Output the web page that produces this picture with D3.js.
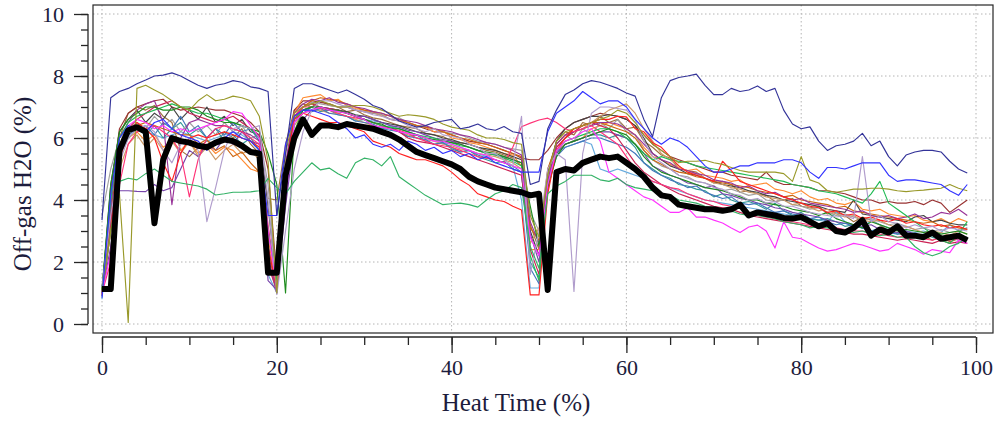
<!DOCTYPE html>
<html>
<head>
<meta charset="utf-8">
<script src="https://cdn.jsdelivr.net/npm/d3@7"></script>
<style>
  html, body { margin: 0; padding: 0; background: #fff; }
  svg { display: block; font-family: "Liberation Serif", "Times New Roman", serif; }
</style>
</head>
<body>
<svg id="chart" width="998" height="421"></svg>
<script>
// Heat time (%) positions shared by every run
const heatTime = [0,1,2,3,4,5,6,7,8,9,10,11,12,13,14,15,16,17,18,19,20,21,22,23,24,25,26,27,28,29,30,31,32,33,34,35,36,37,38,39,40,41,42,43,44,45,46,47,48,49,50,51,52,53,54,55,56,57,58,59,60,61,62,63,64,65,66,67,68,69,70,71,72,73,74,75,76,77,78,79,80,81,82,83,84,85,86,87,88,89,90,91,92,93,94,95,96,97,98,99];
const xTicks = [0, 20, 40, 60, 80, 100];
const yTicks = [0, 2, 4, 6, 8, 10];

// individual heats, off-gas H2O (%)
const runNavy = [3.35,7.3,7.5,7.6,7.75,7.87,8.0,8.03,8.1,8.0,7.85,7.7,7.6,7.7,7.75,7.85,7.8,7.65,7.6,7.5,3.5,5.5,7.6,7.75,7.75,7.65,7.55,7.45,7.55,7.4,7.25,7.05,6.95,6.75,6.55,6.45,6.35,6.4,6.5,6.55,6.6,6.3,6.35,6.45,6.3,6.25,6.37,6.2,6.15,4.5,4.6,6.3,6.9,7.4,7.55,7.75,7.85,7.8,7.7,7.6,7.45,7.35,6.6,6.05,7.3,7.85,7.95,8.0,8.06,7.7,7.4,7.4,7.6,7.5,7.55,7.68,7.5,7.6,6.9,6.45,6.3,6.36,5.9,5.6,5.75,5.8,5.9,6.15,5.75,5.9,5.4,5.1,5.45,5.55,5.6,5.6,5.55,5.25,5.0,4.87];
const runBlue = [0.85,4.2,6.0,6.4,6.3,6.2,6.5,6.6,6.3,6.1,6.0,5.9,5.6,5.9,6.0,6.2,6.0,5.9,5.6,3.5,3.5,5.8,6.7,6.9,6.9,6.8,6.7,6.5,6.3,6.0,6.1,5.8,5.7,5.8,5.6,5.9,5.8,5.6,5.7,5.5,5.6,5.4,5.5,5.3,5.4,5.2,5.1,5.0,4.9,4.9,4.9,6.2,6.8,7.0,7.2,7.5,7.3,7.1,7.2,7.2,7.0,6.6,6.3,6.0,5.8,6.0,5.9,5.7,5.4,5.1,4.9,4.9,5.0,5.1,5.1,5.2,5.2,5.2,5.3,5.3,5.2,4.9,4.7,5.05,5.05,5.0,5.1,5.2,5.2,5.2,4.8,4.6,4.65,4.65,4.6,4.55,4.5,4.3,4.15,4.5];
const runGreen = [1.0,3.0,4.6,4.7,4.65,4.85,5.0,4.8,4.6,4.55,4.5,4.45,4.35,4.16,4.2,4.25,4.25,4.26,4.3,4.7,4.4,4.2,4.6,4.9,5.2,4.97,5.03,4.85,4.7,5.2,5.35,5.3,5.1,5.4,4.75,4.55,4.35,4.15,4.0,3.85,3.88,3.9,3.85,3.77,4.0,4.2,4.3,4.5,4.4,2.5,1.8,4.2,4.45,4.6,4.8,4.8,4.8,4.65,4.6,4.7,4.5,4.4,4.35,4.3,4.2,4.15,4.0,3.95,3.9,3.8,3.75,3.7,3.65,3.55,3.5,3.5,3.45,3.4,3.3,3.25,3.2,3.1,3.15,3.1,3.05,3.0,2.95,3.0,2.9,2.85,2.9,2.8,2.8,2.5,2.3,2.2,2.3,2.5,2.6,2.8];
const runOlive = [1.1,3.0,4.2,0.05,7.6,7.7,7.55,7.4,7.2,7.0,6.9,7.2,7.4,7.2,7.25,7.35,7.3,7.2,6.7,5.25,1.0,5.5,6.8,7.0,7.1,7.2,7.1,7.0,7.0,7.05,7.05,7.0,6.9,6.8,6.7,6.75,6.72,6.68,6.6,6.45,6.35,6.3,6.25,6.1,6.0,6.0,5.95,5.85,5.8,3.5,2.8,4.8,5.9,6.2,6.3,6.4,6.5,6.6,6.7,6.9,6.8,6.5,6.1,5.8,5.6,5.4,5.2,5.25,5.25,5.28,5.2,5.15,5.05,4.95,4.9,4.9,4.9,4.9,4.85,4.6,5.4,4.65,4.55,4.3,4.25,4.3,4.35,4.35,4.38,4.38,4.35,4.3,4.27,4.3,4.32,4.35,4.38,4.5,4.38,4.3];
const runLavender = [1.2,3.5,5.2,6.0,6.3,6.4,6.2,5.6,5.2,5.8,6.0,5.6,3.3,4.4,5.6,6.3,6.4,6.3,6.4,4.0,0.95,3.0,5.0,6.2,6.9,7.2,7.2,7.1,7.0,6.9,6.85,6.75,6.7,6.6,6.55,6.4,6.3,6.2,6.3,6.1,6.05,6.0,5.8,5.7,5.5,5.5,5.3,5.1,6.7,1.6,3.0,5.0,5.5,5.3,1.05,5.5,6.8,7.0,7.0,6.95,6.9,6.6,5.9,5.4,5.2,5.0,4.8,4.7,4.6,4.55,4.4,4.35,4.2,4.15,4.0,4.05,3.9,3.95,3.8,3.8,3.7,3.6,3.55,3.5,3.45,3.5,3.4,5.4,3.3,3.5,3.3,3.25,3.1,3.2,3.1,3.15,3.0,3.1,3.05,3.0];
const runMagenta = [1.0,2.3,5.5,6.4,6.6,6.5,6.3,6.4,6.2,6.3,6.2,6.3,6.4,6.5,6.6,6.85,6.8,6.4,6.0,3.0,1.2,4.0,6.5,6.8,6.9,7.0,6.9,6.85,6.8,6.7,6.6,6.4,6.35,6.3,6.2,6.15,6.1,6.0,5.9,5.9,5.8,5.7,5.6,5.5,5.45,5.3,5.2,5.1,5.0,2.8,2.2,4.5,5.6,5.9,6.0,6.2,6.3,5.9,4.9,4.7,4.5,4.3,4.1,4.0,3.8,3.6,3.6,3.75,3.45,3.45,3.35,3.26,3.1,2.95,3.13,3.19,3.0,2.45,3.3,2.8,2.75,2.6,2.45,2.35,2.4,2.5,2.6,2.55,2.45,2.35,2.4,2.6,2.5,2.4,2.25,2.4,2.35,2.3,2.7,2.6];
const runRed = [0.95,3.0,5.3,6.2,6.5,6.3,6.0,5.2,4.6,5.5,6.0,6.1,6.0,6.1,6.2,6.1,6.0,5.9,5.7,2.5,1.1,5.0,6.6,6.8,6.7,6.6,6.5,6.5,6.4,6.3,6.2,5.9,5.8,5.7,5.5,5.4,5.3,5.3,5.2,5.1,4.9,4.65,4.48,4.2,4.1,4.0,3.95,3.8,3.68,0.94,0.94,4.2,5.6,6.0,6.3,6.4,6.5,6.6,6.6,6.7,6.68,6.3,6.2,5.85,5.7,5.4,5.1,4.9,4.8,4.7,4.6,5.25,4.95,4.6,4.5,4.4,4.3,4.2,4.1,4.0,3.9,3.8,3.75,3.6,3.65,3.5,3.55,3.4,3.45,3.35,3.3,3.4,3.25,3.3,3.2,3.15,3.2,3.1,3.15,3.05];
const runDarkGreen = [1.1,4.5,6.2,6.6,6.8,7.0,7.0,6.9,6.9,7.0,7.0,6.9,6.7,6.6,6.5,6.5,6.4,6.3,6.2,5.5,4.5,1.0,6.2,6.9,7.0,7.0,6.9,6.9,6.8,6.7,6.6,6.5,6.45,6.3,6.3,6.2,6.1,6.0,5.95,5.9,5.85,5.8,5.7,5.6,5.55,5.5,5.4,5.3,5.2,3.8,2.5,4.4,5.4,5.8,5.9,6.0,6.1,6.2,6.3,6.2,6.1,5.8,5.4,5.1,4.9,4.8,4.7,4.6,4.5,4.4,4.35,4.3,4.2,4.1,4.0,4.0,3.9,3.85,3.8,3.7,3.65,3.6,3.5,3.6,3.4,3.3,3.2,3.1,3.3,3.2,3.1,3.0,3.05,3.0,2.95,3.0,2.9,2.95,3.0,2.9];
const runBrown = [1.0,4.0,6.0,6.8,7.0,6.9,7.05,6.7,6.5,5.6,5.4,5.7,5.9,5.8,6.2,6.0,6.3,5.8,5.5,4.05,4.0,5.8,6.9,7.1,7.0,7.2,7.05,7.0,6.85,6.9,6.75,6.65,6.6,6.5,6.4,6.35,6.3,6.15,6.1,6.05,5.9,5.85,5.8,5.7,5.6,5.55,5.45,5.35,5.1,3.2,2.4,4.8,5.9,6.2,6.1,6.5,6.4,6.7,6.5,6.6,6.3,6.35,5.9,5.7,5.45,5.35,5.0,4.95,4.9,4.7,4.55,4.6,4.5,4.25,4.3,4.2,4.15,3.95,4.0,4.05,3.8,3.75,3.8,3.55,3.6,3.5,3.3,3.45,3.35,3.2,3.0,2.95,2.8,2.9,2.85,2.7,2.8,2.65,2.75,2.8];
const runMaroon = [1.1,4.3,6.3,6.8,7.0,7.1,7.2,7.25,7.0,6.9,6.95,7.0,6.95,6.9,6.9,6.8,6.7,6.5,6.2,5.0,1.5,5.0,6.9,7.2,7.2,7.15,7.1,7.0,7.0,6.9,6.85,6.8,6.75,6.6,6.55,6.5,6.4,6.3,6.2,6.2,6.1,6.0,5.9,5.85,5.8,5.7,5.6,5.5,5.35,5.3,5.3,5.6,6.0,6.3,6.5,6.6,6.7,6.8,6.75,6.7,6.6,6.4,6.1,5.8,5.6,5.4,5.3,5.2,5.1,5.0,4.9,4.9,4.8,4.75,4.7,4.65,4.9,4.6,4.5,4.5,4.45,4.4,4.3,4.3,4.25,4.2,4.1,4.0,4.0,3.9,3.95,3.9,3.9,3.95,3.85,4.0,3.9,3.6,3.8,4.0];
const runOrange = [0.9,3.5,5.5,6.0,6.2,5.9,6.1,5.7,5.9,5.6,5.9,5.5,5.8,5.5,5.7,5.6,5.3,5.0,4.9,2.8,1.1,4.5,6.8,7.3,7.35,7.4,7.2,7.25,7.05,6.95,6.9,6.85,6.7,6.75,6.55,6.5,6.4,6.35,6.2,6.25,6.0,5.95,5.85,5.8,5.7,5.6,5.5,5.45,5.1,2.4,2.4,4.3,5.6,5.8,5.9,6.0,6.3,6.4,6.5,6.4,6.3,6.1,5.7,5.4,5.3,5.15,5.05,4.95,5.0,4.8,4.75,4.7,4.6,4.65,4.45,4.5,4.55,4.35,4.3,4.2,4.3,4.1,4.0,4.05,3.9,3.85,3.95,3.7,3.65,3.7,3.55,3.5,3.45,3.5,3.35,3.3,3.4,3.25,3.4,3.3];
const runLightBlue = [0.8,3.8,5.8,6.2,6.3,6.2,6.1,6.0,6.1,6.2,6.1,6.0,5.9,6.0,6.1,6.2,6.1,5.9,5.6,1.6,1.0,4.8,6.6,6.9,7.0,7.0,6.9,6.9,6.8,6.7,6.6,6.55,6.5,6.4,6.3,6.2,6.1,6.0,5.95,5.85,5.8,5.7,5.6,5.5,5.4,5.3,5.2,5.1,4.0,1.16,1.16,5.0,5.6,5.7,5.8,5.9,5.8,5.0,4.9,5.0,4.9,4.8,4.7,4.6,4.5,4.4,4.3,4.2,4.1,4.0,3.95,3.9,3.85,3.8,3.75,3.7,3.65,3.6,3.55,3.5,3.45,3.4,3.35,3.3,3.6,3.3,3.2,3.1,3.35,3.2,3.1,3.05,3.0,2.95,3.0,2.9,2.95,3.2,3.0,3.1];
const runPurple = [1.0,3.8,6.0,6.5,6.9,7.1,7.2,6.5,3.85,6.0,6.5,6.6,6.5,6.4,6.4,6.3,6.2,6.1,5.9,2.2,1.0,5.2,6.8,7.1,7.25,7.2,7.3,7.15,7.1,7.0,6.95,6.85,6.8,6.7,6.6,6.55,6.5,6.4,6.3,6.25,6.2,6.1,6.05,5.95,5.85,5.8,5.7,5.6,5.45,3.3,2.6,4.6,5.8,6.1,6.2,6.3,6.4,6.5,6.5,6.45,6.3,6.1,5.8,5.5,5.3,5.2,5.0,4.95,4.85,4.8,4.65,4.6,4.55,4.4,4.45,4.3,4.2,4.25,4.1,4.0,4.05,3.9,3.85,3.8,3.75,3.7,3.6,3.65,3.5,3.45,3.5,3.4,3.45,3.55,3.4,3.45,3.6,3.55,3.7,3.5];
const runPink = [1.0,2.0,4.5,5.8,6.2,6.3,6.4,6.2,6.0,5.5,4.1,5.3,6.0,6.3,6.4,6.3,6.2,6.0,5.8,3.2,1.2,4.2,6.7,7.0,7.0,6.95,6.9,6.8,6.7,6.65,6.6,6.5,6.4,6.3,6.25,6.15,6.0,5.9,5.8,5.75,5.7,5.6,5.5,5.4,5.35,5.3,5.2,5.7,6.36,6.48,6.58,6.64,6.5,6.3,6.2,6.3,6.4,6.2,6.0,5.8,5.4,5.0,4.8,4.6,4.5,4.4,4.35,4.2,4.1,4.0,3.95,3.85,3.8,3.75,3.6,3.5,3.45,3.4,3.3,3.3,3.25,3.2,3.1,3.15,3.1,3.05,3.0,3.0,2.95,2.9,2.85,2.8,2.85,2.8,2.75,2.7,2.8,2.7,2.75,2.7];
const runTeal = [1.2,3.2,5.4,6.0,6.3,6.1,6.4,6.0,6.3,6.5,6.1,6.3,6.0,6.3,5.9,6.1,5.8,6.0,5.6,1.8,1.3,4.0,6.5,6.8,7.0,6.85,6.9,6.75,6.7,6.55,6.6,6.4,6.3,6.35,6.2,6.05,6.1,5.9,5.8,5.85,5.65,5.55,5.6,5.4,5.3,5.2,5.25,5.0,4.9,2.0,1.5,4.8,5.5,5.8,5.9,6.0,6.1,6.1,6.0,6.1,6.0,5.7,5.2,5.0,4.8,4.7,4.5,4.45,4.35,4.3,4.1,4.2,4.0,3.9,3.95,3.85,3.7,3.9,3.65,3.5,3.6,3.4,3.35,3.4,3.3,3.15,3.2,3.1,3.0,3.1,3.05,2.9,2.95,2.85,2.9,2.8,2.7,2.85,2.75,2.8];
const runGray = [3.5,5.0,6.0,6.3,6.5,6.3,6.7,6.4,6.6,6.2,6.5,6.2,6.4,6.1,6.5,6.2,6.4,6.0,6.1,4.5,1.2,4.7,6.7,7.0,7.15,7.1,7.05,7.0,7.05,6.9,6.85,6.8,6.75,6.6,6.65,6.5,6.4,6.35,6.3,6.2,6.15,6.1,6.0,5.9,5.85,5.8,5.7,5.65,5.6,3.6,3.0,4.7,5.8,6.1,5.9,6.3,6.1,6.5,6.3,6.6,6.2,6.1,5.6,5.3,5.1,5.0,4.8,4.75,4.6,4.55,4.45,4.3,4.35,4.25,4.15,4.2,4.0,3.95,4.0,3.85,3.8,3.7,3.75,3.6,3.5,3.55,3.45,3.35,3.4,3.3,3.2,3.25,3.15,3.05,3.1,3.0,3.05,2.95,3.0,3.1];
const runCharcoal = [1.0,4.5,6.2,6.6,6.9,6.5,6.8,6.6,7.0,6.6,6.9,6.6,7.0,6.5,6.7,6.4,6.6,6.2,6.1,3.8,1.2,5.0,6.7,6.9,7.0,7.0,6.95,6.9,6.85,6.75,6.7,6.6,6.5,6.45,6.4,6.3,6.2,6.15,6.1,6.0,5.95,5.85,5.8,5.7,5.65,5.6,5.5,5.4,5.3,3.0,2.2,4.9,5.9,6.3,6.5,6.6,6.7,6.7,6.75,6.7,6.6,6.4,6.0,5.5,5.3,5.1,5.0,4.85,4.8,4.7,4.6,4.5,4.45,4.4,4.3,4.25,4.15,4.1,4.0,3.95,3.9,3.85,3.8,3.7,3.65,3.6,4.0,3.55,3.5,3.45,3.4,3.35,3.3,3.45,3.5,3.3,3.35,3.25,3.2,3.2];
const runTan = [1.0,3.0,5.0,5.8,6.1,5.7,6.0,5.6,5.9,5.5,5.9,5.4,5.7,5.3,5.6,5.8,5.5,5.6,5.3,2.0,1.0,4.4,6.4,6.8,6.9,6.9,6.8,6.8,6.7,6.6,6.5,6.4,6.35,6.3,6.2,6.1,6.0,5.95,5.9,5.8,5.75,5.65,5.6,5.5,5.45,5.4,5.3,5.2,5.0,2.6,3.1,4.6,5.7,6.0,6.2,6.3,6.5,6.7,6.9,7.0,7.1,6.8,6.3,5.9,5.5,5.3,5.1,4.9,4.85,4.7,4.55,4.5,4.4,4.35,4.25,4.2,4.1,4.05,4.0,3.85,3.9,3.75,3.65,3.7,3.55,3.45,3.5,3.35,3.3,3.35,3.2,3.1,3.15,3.05,2.95,3.0,2.95,2.85,3.0,2.9];
const runViolet = [1.0,2.5,4.3,4.3,4.28,4.27,4.5,4.3,4.4,5.0,5.6,5.4,5.8,5.6,6.0,5.8,6.2,5.9,5.8,1.4,1.1,3.8,6.0,6.6,6.9,7.0,6.95,6.9,6.8,6.7,6.7,6.6,6.5,6.4,6.35,6.25,6.2,6.1,6.0,5.95,5.9,5.8,5.7,5.6,5.5,5.45,5.4,5.3,5.2,2.9,2.0,4.4,5.5,5.8,5.9,6.0,6.1,6.2,6.2,6.1,6.0,5.8,5.5,5.1,4.95,4.8,4.7,4.55,4.5,4.4,4.45,4.2,4.15,4.05,4.0,3.9,3.85,3.75,3.7,3.6,3.55,3.5,3.45,3.35,3.3,3.25,3.2,3.15,3.2,3.05,3.0,2.95,3.0,2.9,2.85,2.9,2.8,2.85,2.8,2.8];
const runSeaGreen = [1.1,4.0,6.0,6.5,6.7,6.8,6.9,7.0,7.1,7.0,6.9,6.8,6.8,6.7,6.6,6.5,6.4,6.3,6.0,3.0,1.4,4.6,6.6,6.9,7.0,7.0,6.9,6.85,6.8,6.7,6.6,6.5,6.4,6.35,6.3,6.2,6.1,6.05,6.0,5.9,5.85,5.75,5.7,5.6,5.5,5.45,5.35,5.25,5.1,2.2,1.4,4.5,5.6,5.9,6.0,6.1,6.2,6.3,6.3,6.2,6.0,5.8,5.5,5.3,5.4,5.3,5.25,5.2,5.1,5.05,5.0,4.95,4.9,4.85,4.8,4.75,4.7,4.65,4.6,4.5,4.45,4.4,4.3,4.25,4.2,4.1,4.0,3.9,4.2,4.6,3.9,3.7,3.5,3.3,3.1,2.9,2.7,2.6,2.9,3.3];
const runSteel = [0.9,3.6,5.6,6.1,6.3,6.4,6.1,6.5,6.3,6.7,6.2,6.4,6.0,6.3,6.1,6.5,6.2,6.3,5.9,2.5,1.1,4.4,6.5,6.9,6.85,6.95,6.8,6.75,6.7,6.55,6.5,6.45,6.3,6.25,6.2,6.05,6.0,5.95,5.8,5.85,5.7,5.55,5.6,5.45,5.35,5.3,5.2,5.1,4.9,1.8,1.3,4.5,5.4,5.7,5.8,5.9,6.0,6.0,5.9,5.8,5.7,5.5,5.2,4.95,4.8,4.65,4.55,4.4,4.45,4.25,4.15,4.05,4.1,3.9,3.85,3.9,3.75,3.6,3.65,3.55,3.5,3.4,3.45,3.3,3.2,3.25,3.15,3.1,3.0,3.05,2.95,2.9,2.95,2.85,2.8,2.9,2.75,2.8,2.7,2.75];
const runDarkOrange = [1.0,3.5,5.7,6.2,6.4,6.5,6.4,6.3,6.2,6.1,6.1,5.8,5.95,5.6,5.75,5.4,5.55,5.2,4.9,2.2,1.3,4.6,6.6,7.0,7.2,7.3,7.25,7.2,7.1,7.0,6.9,6.85,6.8,6.7,6.6,6.5,6.4,6.35,6.3,6.2,6.1,6.0,5.95,5.85,5.8,5.7,5.6,5.5,5.4,3.1,2.7,5.0,5.8,6.1,6.3,6.4,6.5,6.5,6.4,6.3,6.2,6.0,5.6,5.3,5.15,5.0,4.9,4.85,4.75,4.7,4.6,4.55,4.5,4.45,4.4,4.3,4.25,4.2,4.1,4.15,4.0,3.95,3.9,3.85,3.75,3.8,3.65,3.6,3.55,3.5,3.45,3.4,3.35,3.3,3.25,3.3,3.15,3.2,3.1,3.05];
const runCrimson = [1.0,3.3,5.6,6.3,6.6,6.8,7.0,7.1,7.2,7.0,6.8,6.7,6.6,6.5,6.6,6.7,6.5,6.3,6.1,1.9,1.1,4.3,6.7,7.0,7.1,7.0,6.95,6.9,6.8,6.7,6.6,6.5,6.4,6.3,6.2,6.0,5.9,5.85,5.8,5.7,5.6,5.5,5.4,5.3,5.2,5.1,5.0,4.9,4.8,2.4,1.6,4.6,5.7,6.0,6.2,6.4,6.5,6.4,6.3,6.0,5.6,5.2,4.9,4.7,4.5,4.35,4.2,4.1,4.0,3.9,3.8,3.75,3.7,3.6,3.5,3.45,3.4,3.35,3.3,3.25,3.2,3.15,3.1,3.05,3.0,2.95,2.9,2.9,2.85,2.8,2.75,2.7,2.75,2.7,2.65,2.6,2.7,2.6,2.65,2.6];

// average of all heats (thick black line)
const meanH2O = [1.13,1.13,5.6,6.25,6.35,6.2,3.25,5.3,6.0,5.9,5.85,5.75,5.7,5.85,5.95,5.9,5.75,5.55,5.5,1.65,1.65,4.8,6.0,6.6,6.1,6.4,6.4,6.35,6.45,6.4,6.35,6.3,6.2,6.1,5.95,5.75,5.55,5.45,5.35,5.25,5.15,5.0,4.75,4.6,4.5,4.4,4.35,4.3,4.25,4.15,4.2,1.1,4.9,5.0,4.95,5.2,5.3,5.4,5.35,5.4,5.2,5.0,4.75,4.4,4.15,4.1,3.85,3.8,3.75,3.7,3.7,3.65,3.7,3.85,3.5,3.6,3.55,3.5,3.42,3.4,3.45,3.3,3.15,3.25,3.0,2.95,3.1,3.35,2.85,3.05,2.95,3.15,2.85,2.85,2.8,2.95,2.75,2.8,2.85,2.7];

const runValues = [runBrown, runMaroon, runOrange, runLightBlue, runTeal, runGray, runCharcoal, runTan, runViolet, runSteel,
  runDarkOrange, runCrimson, runPurple, runPink, runSeaGreen, runDarkGreen, runRed, runMagenta, runLavender, runGreen,
  runOlive, runBlue, runNavy];
const runColors = ['#a0703c', '#993333', '#ff8c33', '#66aadd', '#339999', '#a0a0a0', '#444444', '#cc9966', '#7744aa', '#4477bb',
  '#cc6611', '#cc2255', '#993399', '#ff3377', '#22bb55', '#1e8c1e', '#ff2020', '#ff33ff', '#b09ccc', '#33b266',
  '#99992a', '#3333ff', '#333399'];

const svg = d3.select('#chart');
const box = { left: 93, top: 5, right: 993, bottom: 333 };
const textColor = '#1c1c3c';

const x = d3.scaleLinear().domain([0, 100]).range([102, 976]);
const y = d3.scaleLinear().domain([0, 10]).range([324, 14]);

svg.append('rect')
  .attr('width', 998).attr('height', 421).attr('fill', '#fff');

// dotted grid
svg.append('g').selectAll('line')
  .data(xTicks)
  .enter().append('line')
  .attr('x1', d => x(d)).attr('x2', d => x(d))
  .attr('y1', box.top).attr('y2', box.bottom)
  .attr('stroke', '#b4b4b4').attr('stroke-width', 1)
  .attr('stroke-dasharray', '1.5,2.5');

svg.append('g').selectAll('line')
  .data(yTicks)
  .enter().append('line')
  .attr('x1', box.left).attr('x2', box.right)
  .attr('y1', d => y(d)).attr('y2', d => y(d))
  .attr('stroke', '#b4b4b4').attr('stroke-width', 1)
  .attr('stroke-dasharray', '1.5,2.5');

// heats
const line = d3.line()
  .x((d, i) => x(heatTime[i]))
  .y(d => y(d));

svg.append('g').selectAll('path')
  .data(runValues)
  .enter().append('path')
  .attr('d', d => line(d))
  .attr('fill', 'none')
  .attr('stroke', (d, i) => runColors[i])
  .attr('stroke-width', 1.15)
  .attr('stroke-linejoin', 'round');

svg.append('path')
  .attr('d', line(meanH2O))
  .attr('fill', 'none')
  .attr('stroke', '#000')
  .attr('stroke-width', 6)
  .attr('stroke-linejoin', 'round');

// plot frame
svg.append('rect')
  .attr('x', box.left).attr('y', box.top)
  .attr('width', box.right - box.left).attr('height', box.bottom - box.top)
  .attr('fill', 'none').attr('stroke', '#262626').attr('stroke-width', 1.2);

// axes
const xAxisY = 337;
const yAxisX = 88;

const xMinor = svg.append('g')
  .attr('transform', `translate(0,${xAxisY})`)
  .call(d3.axisBottom(x).tickValues(d3.range(0, 101, 5)).tickSize(8).tickFormat(''));
const xMajor = svg.append('g')
  .attr('transform', `translate(0,${xAxisY})`)
  .call(d3.axisBottom(x).tickValues(xTicks).tickSize(16).tickPadding(6));

const yMinor = svg.append('g')
  .attr('transform', `translate(${yAxisX},0)`)
  .call(d3.axisLeft(y).tickValues(d3.range(0, 10.01, 0.5)).tickSize(7).tickFormat(''));
const yMajor = svg.append('g')
  .attr('transform', `translate(${yAxisX},0)`)
  .call(d3.axisLeft(y).tickValues(yTicks).tickSize(14).tickPadding(10));

[xMinor, xMajor, yMinor, yMajor].forEach(g => {
  g.select('.domain').attr('stroke', '#262626').attr('stroke-width', 1.3);
  g.selectAll('.tick line').attr('stroke', '#262626').attr('stroke-width', 1.3);
  g.selectAll('.tick text')
    .attr('fill', textColor)
    .style('font-family', '"Liberation Serif", "Times New Roman", serif')
    .style('font-size', '22px');
});
xMinor.select('.domain').remove();
yMinor.select('.domain').remove();
xMajor.select('.domain').attr('d', `M${x(0)},0H${x(100)}`);
yMajor.select('.domain').attr('d', `M0,${y(10)}V${y(0)}`);

// axis titles
svg.append('text')
  .attr('x', 516).attr('y', 411)
  .attr('text-anchor', 'middle')
  .attr('fill', textColor)
  .style('font-size', '25px')
  .text('Heat Time (%)');

svg.append('text')
  .attr('transform', 'translate(31,184) rotate(-90)')
  .attr('text-anchor', 'middle')
  .attr('fill', textColor)
  .style('font-size', '25px')
  .text('Off-gas H2O (%)');
</script>
</body>
</html>
